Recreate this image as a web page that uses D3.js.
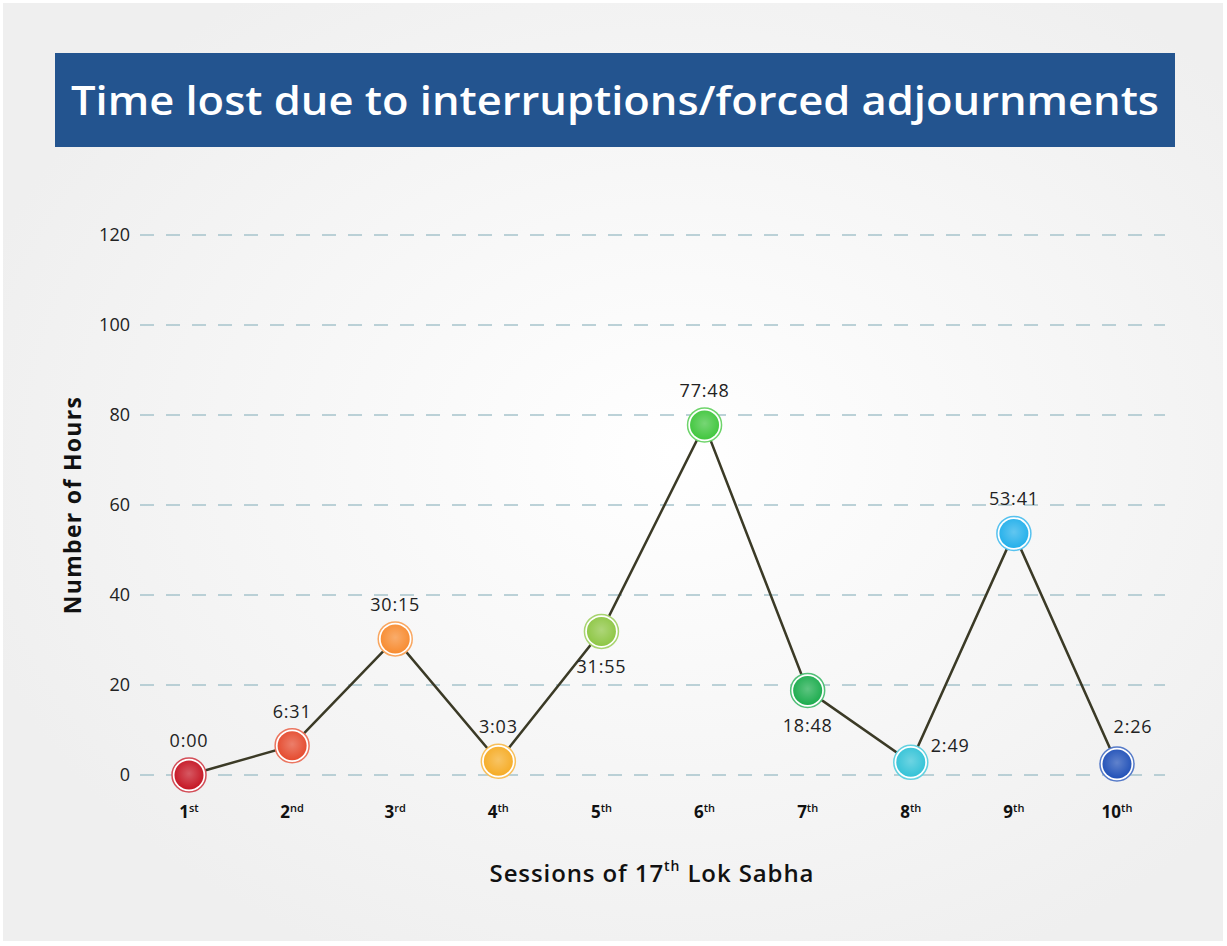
<!DOCTYPE html>
<html>
<head>
<meta charset="utf-8">
<script src="https://cdn.jsdelivr.net/npm/d3@7"></script>
<style>
  html, body { margin: 0; padding: 0; background: #fff; }
  svg { display: block; font-family: "Open Sans", "Noto Sans", sans-serif; }
</style>
</head>
<body>
<svg id="chart" width="1227" height="946"></svg>
<script>
// session numbers and suffixes for the x ticks
var sessions = ["1", "2", "3", "4", "5", "6", "7", "8", "9", "10"];
var suffixes = ["st", "nd", "rd", "th", "th", "th", "th", "th", "th", "th"];
// hours lost, as shown (hh:mm) and as decimal hours
var timeLabels = ["0:00", "6:31", "30:15", "3:03", "31:55", "77:48", "18:48", "2:49", "53:41", "2:26"];
var hours = [0, 6 + 31/60, 30 + 15/60, 3 + 3/60, 31 + 55/60, 77 + 48/60, 18 + 48/60, 2 + 49/60, 53 + 41/60, 2 + 26/60];
var yTicks = [0, 20, 40, 60, 80, 100, 120];
var colors = ["#c4111f", "#e4472a", "#f7892c", "#f5aa22", "#8bc540", "#3dc53a", "#17aa4a", "#2fc1d6", "#1faeea", "#1c4db6"];

var data = sessions.map(function(s, i) {
  return { session: s, suffix: suffixes[i], label: timeLabels[i], hours: hours[i], color: colors[i] };
});

// where each value label sits relative to its marker
var labelPlace = ["above", "above", "above", "above", "below", "above", "below", "right", "above", "aboveRight"];

var svg = d3.select("#chart");
var W = 1227, H = 946;

var defs = svg.append("defs");
var bg = defs.append("radialGradient").attr("id", "bg")
    .attr("cx", "0.55").attr("cy", "0.48").attr("r", "0.6");
bg.append("stop").attr("offset", "0%").attr("stop-color", "#ffffff");
bg.append("stop").attr("offset", "100%").attr("stop-color", "#efefef");

svg.append("rect").attr("x", 3).attr("y", 3).attr("width", W - 7).attr("height", H - 8)
    .attr("fill", "url(#bg)");

// title banner
svg.append("rect").attr("x", 55).attr("y", 53).attr("width", 1120).attr("height", 94)
    .attr("fill", "#23548f");
svg.append("text").attr("x", 615).attr("y", 115)
    .attr("text-anchor", "middle").attr("fill", "#fff")
    .attr("font-size", 40).attr("font-weight", 600)
    .attr("textLength", 1088).attr("lengthAdjust", "spacingAndGlyphs")
    .text("Time lost due to interruptions/forced adjournments");

var x = d3.scalePoint().domain(sessions).range([189, 1117]);
var y = d3.scaleLinear().domain([0, 120]).range([775, 235]);

// grid lines
svg.append("g").selectAll("line").data(yTicks).enter().append("line")
    .attr("x1", 140).attr("x2", 1165)
    .attr("y1", function(d) { return y(d); }).attr("y2", function(d) { return y(d); })
    .attr("stroke", "#a7c3cb").attr("stroke-width", 1.3)
    .attr("stroke-dasharray", "14,12");

// y axis labels
var yAxis = svg.append("g").attr("transform", "translate(140,0)")
    .call(d3.axisLeft(y).tickValues(yTicks).tickSize(0).tickPadding(10));
yAxis.select(".domain").remove();
yAxis.selectAll("text").attr("font-size", 18).attr("fill", "#222")
    .attr("font-family", "Open Sans, sans-serif");

// x axis labels with superscripts
var xAxis = svg.append("g").attr("transform", "translate(0,812)");
var xt = xAxis.selectAll("text").data(data).enter().append("text")
    .attr("x", function(d) { return x(d.session); })
    .attr("text-anchor", "middle").attr("fill", "#111")
    .attr("font-size", 17).attr("font-weight", 700).attr("dy", "0.35em");
xt.append("tspan").text(function(d) { return d.session; });
xt.append("tspan").attr("font-size", 11).attr("font-weight", 600).attr("dy", "-0.55em")
    .text(function(d) { return d.suffix; });

// axis titles
svg.append("text").attr("transform", "translate(81,505) rotate(-90)")
    .attr("text-anchor", "middle").attr("font-size", 23).attr("font-weight", 700)
    .attr("letter-spacing", 1.3)
    .attr("fill", "#111").text("Number of Hours");

var xTitle = svg.append("text").attr("x", 652).attr("y", 882)
    .attr("text-anchor", "middle").attr("font-size", 24).attr("font-weight", 600)
    .attr("letter-spacing", 0.9).attr("fill", "#111");
xTitle.append("tspan").text("Sessions of 17");
xTitle.append("tspan").attr("font-size", 14).attr("dy", "-0.8em").text("th");
xTitle.append("tspan").attr("dy", "0.47em").text(" Lok Sabha");

// connecting line
var line = d3.line()
    .x(function(d) { return x(d.session); })
    .y(function(d) { return y(d.hours); });
svg.append("path").datum(data).attr("d", line)
    .attr("fill", "none").attr("stroke", "#3b3a26").attr("stroke-width", 2.5);

// marker gradients
data.forEach(function(d, i) {
  var g = defs.append("radialGradient").attr("id", "m" + i)
      .attr("cx", "0.5").attr("cy", "0.45").attr("r", "0.6");
  g.append("stop").attr("offset", "0%").attr("stop-color", d3.interpolateRgb(d.color, "#fff")(0.3));
  g.append("stop").attr("offset", "100%").attr("stop-color", d.color);
});

var pts = svg.append("g").selectAll("g").data(data).enter().append("g")
    .attr("transform", function(d) { return "translate(" + x(d.session) + "," + y(d.hours) + ")"; });
pts.append("circle").attr("r", 17).attr("fill", "#fff")
    .attr("stroke", function(d) { return d3.interpolateRgb(d.color, "#fff")(0.25); })
    .attr("stroke-width", 1.5);
pts.append("circle").attr("r", 14.5)
    .attr("fill", function(d, i) { return "url(#m" + i + ")"; });

// value labels
pts.append("text")
    .attr("font-size", 18).attr("letter-spacing", 0.8).attr("fill", "#222")
    .attr("text-anchor", function(d, i) { return labelPlace[i] === "right" ? "start" : "middle"; })
    .attr("x", function(d, i) {
      if (labelPlace[i] === "right") return 20;
      if (labelPlace[i] === "aboveRight") return 16;
      return 0;
    })
    .attr("y", function(d, i) {
      var p = labelPlace[i];
      if (p === "below") return 42;
      if (p === "right") return -10;
      if (p === "aboveRight") return -31;
      return -28;
    })
    .text(function(d) { return d.label; });
</script>
</body>
</html>
